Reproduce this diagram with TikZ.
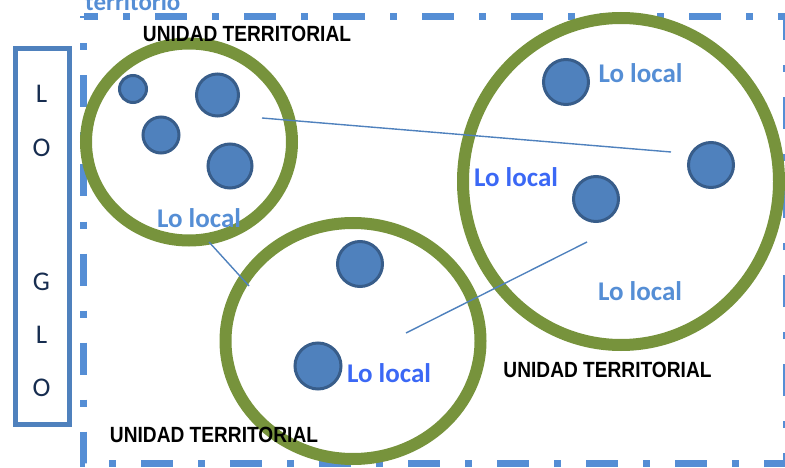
\documentclass[tikz,border=0pt]{standalone}
\usepackage{fontspec}
\setmainfont{Carlito}
\newfontfamily\narrowfont[FakeStretch=0.87]{Liberation Sans}
\usetikzlibrary{shapes.geometric}
\definecolor{frameblue}{RGB}{85,142,213}
\definecolor{logoblue}{RGB}{79,129,189}
\definecolor{ringgreen}{RGB}{119,147,60}
\definecolor{dotfill}{RGB}{79,129,189}
\definecolor{dotline}{RGB}{56,93,138}
\definecolor{lightlabel}{RGB}{85,142,213}
\definecolor{brightlabel}{RGB}{59,104,245}
\definecolor{logotext}{RGB}{23,45,80}
\tikzset{
  ring/.style={ellipse, draw=ringgreen, line width=12pt, inner sep=0pt},
  dot/.style={circle, draw=dotline, fill=dotfill, line width=3pt, inner sep=0pt, minimum size=#1},
  link/.style={draw=logoblue, line width=1.4pt},
  unidad/.style={font=\narrowfont\bfseries\fontsize{22}{24}\selectfont, text=black, anchor=base, inner sep=0pt},
  local/.style={font=\bfseries\fontsize{27}{30}\selectfont, anchor=base, inner sep=0pt},
  logoletter/.style={font=\fontsize{27}{30}\selectfont, text=logotext, anchor=base, inner sep=0pt},
}
\begin{document}
\begin{tikzpicture}[x=1pt,y=-1pt]
\useasboundingbox (0,0) rectangle (785,468);
% outer territorio frame
\draw[frameblue, line width=7pt, dash pattern=on 32pt off 25pt on 7pt off 25pt, dash phase=30pt]
  (83.5,16.5) rectangle (786,463);
\node[font=\bfseries\fontsize{25}{28}\selectfont, text=frameblue, anchor=base west, inner sep=0pt] (terr) at (85,10.5) {territorio};
% logo box
\draw[logoblue, line width=5pt] (15,48.3) rectangle (69,424);
\node[logoletter] (l1) at (41.5,103) {L};
\node[logoletter] (o1) at (41.5,157) {O};
\node[logoletter] (g1) at (41.5,290) {G};
\node[logoletter] (l2) at (41.5,343) {L};
\node[logoletter] (o2) at (41.5,396) {O};
% rings
\node[ring, minimum width=206pt, minimum height=197pt] (c1) at (189,142) {};
\node[ring, minimum width=255pt, minimum height=236pt] (c2) at (353,341) {};
\node[ring, minimum width=316pt, minimum height=327pt] (c3) at (621,181.5) {};
% dots
\node[dot=27pt] (da) at (133,89) {};
\node[dot=42pt] (db) at (217.5,95) {};
\node[dot=36pt] (dc) at (161,135) {};
\node[dot=44pt] (dd) at (230,166) {};
\node[dot=45pt] (de) at (360,264) {};
\node[dot=46pt] (df) at (318,366) {};
\node[dot=45pt] (dg) at (566,82) {};
\node[dot=45pt] (dh) at (711,165) {};
\node[dot=45pt] (di) at (596,199) {};
% links
\coordinate (p1) at (262,118);
\coordinate (p2) at (671,152);
\coordinate (q1) at (209,242);
\coordinate (q2) at (249,286);
\coordinate (r1) at (406,333);
\coordinate (r2) at (587,242);
\draw[link] (p1) -- (p2);
\draw[link] (q1) -- (q2);
\draw[link] (r1) -- (r2);
% labels
\node[unidad] (t1) at (247,42) {UNIDAD TERRITORIAL};
\node[unidad] (t2) at (607.5,377) {UNIDAD TERRITORIAL};
\node[unidad] (t3) at (214,442) {UNIDAD TERRITORIAL};
\node[local, text=lightlabel] (la) at (199,227) {Lo local};
\node[local, text=lightlabel] (lg) at (640.5,83) {Lo local};
\node[local, text=brightlabel] (ll) at (516,187) {Lo local};
\node[local, text=lightlabel] (lb) at (640,300) {Lo local};
\node[local, text=brightlabel] (lf) at (389,382) {Lo local};
\end{tikzpicture}
\end{document}
